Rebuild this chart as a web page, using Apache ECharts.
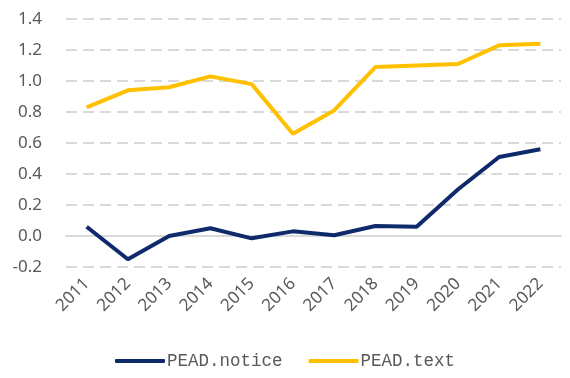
<!DOCTYPE html>
<html><head><meta charset="utf-8">
<script src="https://cdn.jsdelivr.net/npm/echarts@6/dist/echarts.min.js"></script>
<style>html,body{margin:0;padding:0;background:#fff}#c{width:570px;height:378px}</style>
</head><body><div id="c"></div>
<script>
var years = ['2011','2012','2013','2014','2015','2016','2017','2018','2019','2020','2021','2022'];
var peadNotice = [0.06, -0.15, 0.00, 0.05, -0.015, 0.03, 0.005, 0.065, 0.06, 0.30, 0.51, 0.56];
var peadText = [0.83, 0.94, 0.96, 1.03, 0.98, 0.66, 0.81, 1.09, 1.10, 1.11, 1.23, 1.24];
var chart = echarts.init(document.getElementById('c'));
chart.setOption({
  animation: false,
  grid: {left: 66, right: 9, top: 19, bottom: 111},
  legend: {
    bottom: 3, left: 'center', itemWidth: 50, itemHeight: 4, itemGap: 26,
    textStyle: {fontFamily: 'Liberation Mono', fontSize: 17.5, color: '#595959', padding: [0,0,0,-3]},
    data: [{name: 'PEAD.notice', icon: 'roundRect'}, {name: 'PEAD.text', icon: 'roundRect'}]
  },
  xAxis: {
    type: 'category', data: years, boundaryGap: true,
    axisLine: {show: true, onZero: true, lineStyle: {color: '#d9d9d9', width: 2}},
    axisTick: {show: false},
    axisLabel: {rotate: 45, margin: 14, fontSize: 17, color: '#595959', fontFamily: 'Noto Sans', interval: 0}
  },
  yAxis: {
    type: 'value', min: -0.2, max: 1.4, interval: 0.2,
    axisLine: {show: false}, axisTick: {show: false},
    axisLabel: {fontSize: 17, color: '#595959', margin: 24, fontFamily: 'Noto Sans',
      formatter: function(v){ return v.toFixed(1); }},
    splitLine: {lineStyle: {color: '#d9d9d9', width: 2, type: [11, 6]}}
  },
  series: [
    {name: 'PEAD.notice', type: 'line', data: peadNotice, symbol: 'none',
     lineStyle: {color: '#0f2a6b', width: 4}, itemStyle: {color: '#0f2a6b'}},
    {name: 'PEAD.text', type: 'line', data: peadText, symbol: 'none',
     lineStyle: {color: '#ffc000', width: 4}, itemStyle: {color: '#ffc000'}}
  ]
});
</script></body></html>
